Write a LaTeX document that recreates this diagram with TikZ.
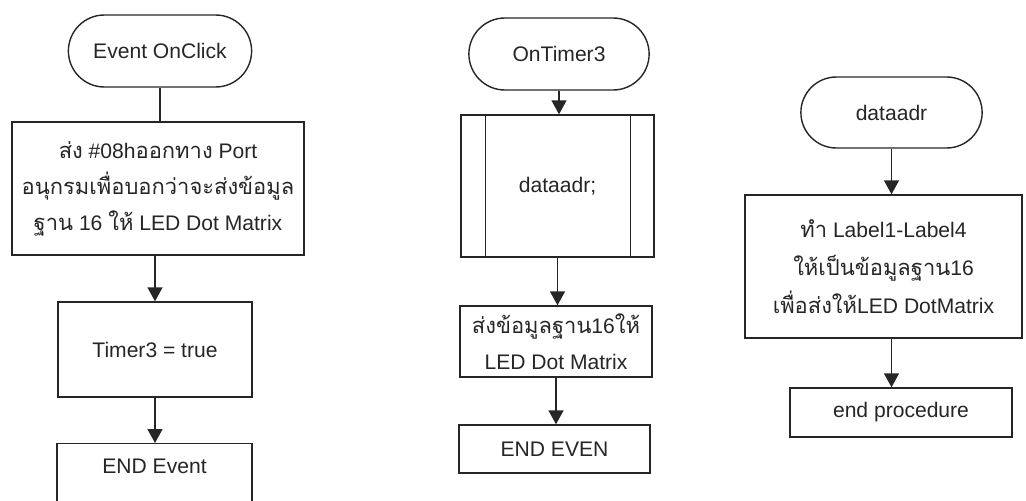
\documentclass[tikz,border=0pt]{standalone}
\usepackage{fontspec}
\setmainfont{Liberation Sans}
\newfontfamily\thaifont[Script=Thai, Scale=1.04]{Loma}
\usetikzlibrary{arrows.meta,shapes.misc}

\begin{document}
\begin{tikzpicture}[
    x=0.02cm, y=-0.02cm,
    terminal/.style={rounded rectangle, draw=black!85, line width=0.8pt, minimum width=3.9cm, minimum height=1.44cm, font=\fontsize{12}{20}\selectfont, text=black!85},
    process/.style={rectangle, draw=black!85, line width=0.8pt, align=center, font=\fontsize{12}{20.5}\selectfont, text=black!85},
    arrow/.style={-{Triangle[length=0.28cm, width=0.3cm]}, line width=0.8pt, draw=black!85},
    link/.style={line width=0.8pt, draw=black!85},
]
    \useasboundingbox (0,0) rectangle (1026,500);

    % OnClick event
    \node[terminal] (click) at (160, 51) {Event OnClick};
    \node[process, minimum width=5.84cm, minimum height=2.66cm] (sendport) at (158, 188.5)
        {{\thaifont ส่ง} \#08h{\thaifont ออกทาง} Port\\
         {\thaifont อนุกรมเพื่อบอกว่าจะส่งข้อมูล}\\
         {\thaifont ฐาน} 16 {\thaifont ให้} LED Dot Matrix};
    \node[process, minimum width=3.88cm, minimum height=1.9cm] (timeron) at (155, 349.5) {Timer3 = true};
    \node[process, minimum width=3.9cm, anchor=north, inner ysep=0pt, text height=0.6cm, text depth=1.2cm] (endevent) at (154.5, 443) {END Event};

    % Timer
    \node[terminal, minimum width=3.84cm] (timer) at (559, 54) {OnTimer3};
    \node[process, minimum width=3.86cm, minimum height=2.84cm] (call) at (557.5, 186) {dataadr;};
    \draw[link] ([xshift=0.5cm]call.north west) -- ([xshift=0.5cm]call.south west);
    \draw[link] ([xshift=-0.48cm]call.north east) -- ([xshift=-0.48cm]call.south east);
    \node[process, minimum width=3.84cm, minimum height=1.42cm] (senddata) at (556, 341.5)
        {{\thaifont ส่งข้อมูลฐาน}16{\thaifont ให้}\\ LED Dot Matrix};
    \node[process, minimum width=3.82cm, minimum height=0.96cm] (endeven) at (554.5, 449) {END EVEN};

    % Procedure
    \node[terminal, minimum width=3.86cm, minimum height=1.42cm] (proc) at (891.5, 112.5) {dataadr};
    \node[process, minimum width=5.54cm, minimum height=2.86cm, font=\fontsize{12}{21.5}\selectfont] (convert) at (883.5, 266.5)
        {{\thaifont ทำ} Label1-Label4\\
         {\thaifont ให้เป็นข้อมูลฐาน}16\\
         {\thaifont เพื่อส่งให้}LED DotMatrix};
    \node[process, minimum width=4.44cm, minimum height=0.98cm] (endproc) at (901, 412.5) {end procedure};

    % Connectors
    \draw[link] (click.south) -- (click.south |- sendport.north);
    \draw[arrow] (sendport.south -| timeron.north) -- (timeron.north);
    \draw[arrow] (timeron.south) -- (timeron.south |- endevent.north);
    \draw[arrow] (timer.south) -- (timer.south |- call.north);
    \draw[arrow] (call.south) -- (call.south |- senddata.north);
    \draw[arrow] (senddata.south) -- (senddata.south |- endeven.north);
    \draw[arrow] (proc.south) -- (proc.south |- convert.north);
    \draw[arrow] (convert.south -| proc.south) -- (proc.south |- endproc.north);
\end{tikzpicture}
\end{document}
